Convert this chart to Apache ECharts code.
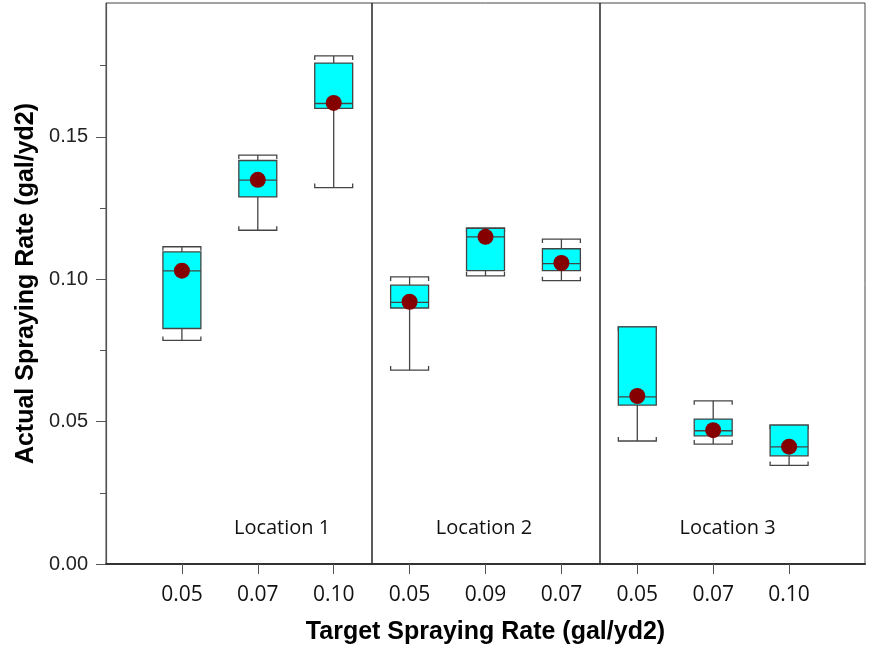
<!DOCTYPE html>
<html>
<head>
<meta charset="utf-8">
<script src="https://cdn.jsdelivr.net/npm/echarts@6/dist/echarts.min.js"></script>
<style>
  html, body { margin: 0; padding: 0; background: #fff; }
  #chart { width: 875px; height: 655px; }
</style>
</head>
<body>
<div id="chart"></div>
<script>
// Target rate shown under each box (three locations, three rates each)
const targetLabels = ['0.05', '0.07', '0.10', '0.05', '0.09', '0.07', '0.05', '0.07', '0.10'];
const positions    = [1, 2, 3, 4, 5, 6, 7, 8, 9];

// Box statistics of the actual spraying rate (gal/yd2)
const whiskerLow  = [0.0785, 0.1172, 0.1322, 0.0681, 0.1012, 0.0995, 0.0432, 0.0421, 0.0346];
const quartile1   = [0.0827, 0.1289, 0.1600, 0.0899, 0.1030, 0.1030, 0.0558, 0.0450, 0.0380];
const medians     = [0.1029, 0.1348, 0.1617, 0.0919, 0.1149, 0.1055, 0.0587, 0.0468, 0.0411];
const quartile3   = [0.1096, 0.1417, 0.1759, 0.0979, 0.1179, 0.1107, 0.0833, 0.0509, 0.0488];
const whiskerHigh = [0.1114, 0.1436, 0.1784, 0.1008, 0.1179, 0.1141, 0.0833, 0.0573, 0.0488];
const means       = [0.1030, 0.1349, 0.1619, 0.0921, 0.1149, 0.1057, 0.0590, 0.0470, 0.0412];

// Location groups and the dividers between them
const locationNames = ['Location 1', 'Location 2', 'Location 3'];
const dividers = [3.5, 6.5];

// Y-axis ticks
const yMajorTicks = [0, 0.05, 0.10, 0.15];
const yMinorTicks = [0.025, 0.075, 0.125, 0.175];

// Where the location captions sit, in axis units
const captionX = [2.32, 4.98, 8.19];
const captionY = 0.0126;

const boxData = positions.map((p, i) =>
  [p, whiskerLow[i], quartile1[i], medians[i], quartile3[i], whiskerHigh[i]]);
const meanData = positions.map((p, i) => [p, means[i]]);
const captionData = locationNames.map((n, i) => ({ name: n, value: [captionX[i], captionY] }));

const lineColor = '#444';
const BOX_WIDTH = 0.5;
const CAP_END = 4;

function renderBox(params, api) {
  const x = api.value(0);
  const w = api.size([BOX_WIDTH, 0])[0];
  const hw = w / 2;
  const pLow = api.coord([x, api.value(1)]);
  const pQ1 = api.coord([x, api.value(2)]);
  const pMed = api.coord([x, api.value(3)]);
  const pQ3 = api.coord([x, api.value(4)]);
  const pHigh = api.coord([x, api.value(5)]);
  const cx = pMed[0];
  const stroke = { stroke: lineColor, lineWidth: 1.3, fill: null };
  return {
    type: 'group',
    children: [
      { type: 'line', shape: { x1: cx, y1: pHigh[1], x2: cx, y2: pQ3[1] }, style: stroke },
      { type: 'line', shape: { x1: cx, y1: pQ1[1], x2: cx, y2: pLow[1] }, style: stroke },
      { type: 'polyline', shape: { points: [[cx - hw, pHigh[1] + CAP_END], [cx - hw, pHigh[1]], [cx + hw, pHigh[1]], [cx + hw, pHigh[1] + CAP_END]] }, style: stroke },
      { type: 'polyline', shape: { points: [[cx - hw, pLow[1] - CAP_END], [cx - hw, pLow[1]], [cx + hw, pLow[1]], [cx + hw, pLow[1] - CAP_END]] }, style: stroke },
      { type: 'rect', shape: { x: cx - hw, y: pQ3[1], width: w, height: pQ1[1] - pQ3[1] },
        style: { fill: '#00ffff', stroke: lineColor, lineWidth: 1.3 } },
      { type: 'line', shape: { x1: cx - hw, y1: pMed[1], x2: cx + hw, y2: pMed[1] }, style: stroke }
    ]
  };
}

const chart = echarts.init(document.getElementById('chart'), null, { renderer: 'canvas' });

chart.setOption({
  backgroundColor: '#ffffff',
  animation: false,
  grid: { left: 106, right: 10, top: 3, bottom: 91, show: true, borderColor: '#444', borderWidth: 1, backgroundColor: 'transparent' },
  xAxis: [{
    type: 'value',
    min: 0, max: 10, interval: 1,
    name: 'Target Spraying Rate (gal/yd2)',
    nameLocation: 'middle',
    nameGap: 56,
    nameTextStyle: { fontFamily: 'Liberation Sans, Arial, sans-serif', fontWeight: 'bold', fontSize: 25, color: '#000' },
    axisLine: { show: true, lineStyle: { color: '#555', width: 1.2 } },
    axisTick: { show: true, length: 10, customValues: positions, lineStyle: { color: '#555' } },
    axisLabel: {
      customValues: positions,
      margin: 21,
      fontFamily: 'Open Sans, sans-serif', fontSize: 21, color: '#111',
      formatter: v => targetLabels[Math.round(v) - 1] || ''
    },
    splitLine: { show: false }
  }, {
    type: 'value', position: 'top',
    min: 0, max: 10,
    axisLine: { show: true, lineStyle: { color: '#333', width: 2 } },
    axisTick: { show: false }, axisLabel: { show: false }, splitLine: { show: false }
  }],
  yAxis: [{
    type: 'value',
    min: 0, max: 0.197,
    name: 'Actual Spraying Rate (gal/yd2)',
    nameLocation: 'middle',
    nameRotate: 90,
    nameGap: 56,
    nameTextStyle: { fontFamily: 'Liberation Sans, Arial, sans-serif', fontWeight: 'bold', fontSize: 25, color: '#000' },
    axisLine: { show: true, lineStyle: { color: '#555', width: 1.2 } },
    axisTick: { show: true, length: 10, customValues: yMajorTicks, lineStyle: { color: '#555' } },
    axisLabel: {
      customValues: yMajorTicks,
      margin: 18,
      fontFamily: 'Liberation Sans, Arial, sans-serif', fontSize: 20, color: '#222',
      formatter: v => v.toFixed(2)
    },
    splitLine: { show: false }
  }, {
    type: 'value', position: 'left',
    min: 0, max: 0.197,
    axisLine: { show: false },
    axisTick: { show: true, length: 6, customValues: yMinorTicks, lineStyle: { color: '#555' } },
    axisLabel: { show: false },
    splitLine: { show: false }
  }],
  series: [{
    type: 'custom',
    renderItem: renderBox,
    data: boxData,
    encode: { x: 0, y: [1, 2, 3, 4, 5] },
    z: 2,
    silent: true
  }, {
    type: 'scatter',
    data: meanData,
    symbol: 'circle',
    symbolSize: 16,
    itemStyle: { color: '#850000', borderWidth: 0, opacity: 1 },
    z: 3,
    silent: true,
    markLine: {
      silent: true,
      symbol: ['none', 'none'],
      label: { show: false },
      lineStyle: { color: '#333', width: 1.6, type: 'solid', opacity: 1 },
      data: dividers.map(d => ({ xAxis: d }))
    }
  }, {
    type: 'scatter',
    data: captionData,
    symbolSize: 0,
    silent: true,
    itemStyle: { opacity: 1 },
    label: {
      show: true,
      position: 'inside',
      formatter: p => p.name,
      fontFamily: 'Open Sans, sans-serif',
      fontSize: 20,
      color: '#111'
    }
  }]
});
</script>
</body>
</html>
